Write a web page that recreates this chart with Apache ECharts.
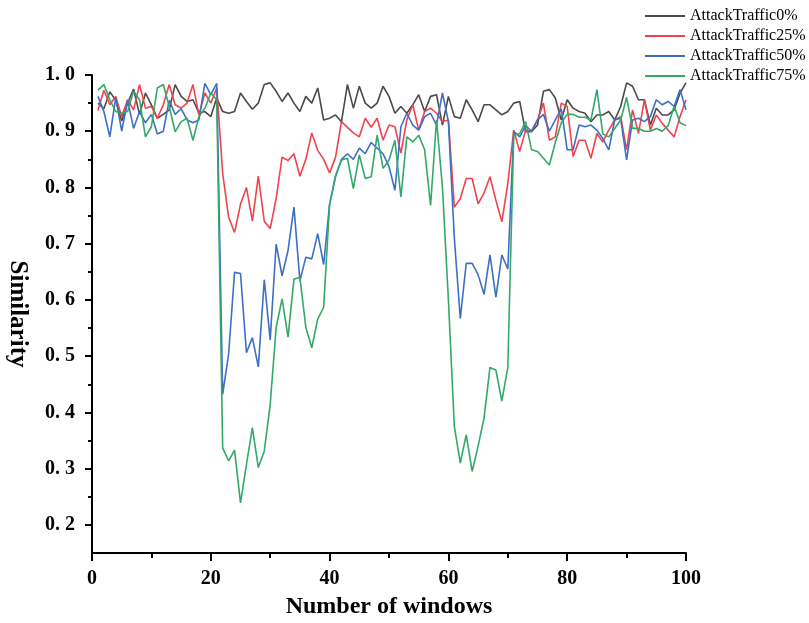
<!DOCTYPE html>
<html>
<head>
<meta charset="utf-8">
<script src="https://cdn.jsdelivr.net/npm/echarts@6/dist/echarts.min.js"></script>
<style>
  html, body { margin: 0; padding: 0; background: #fff; }
  #similarityChart { width: 809px; height: 623px; }
</style>
</head>
<body>
<div id="similarityChart"></div>
<script>
// window index 1..100
const windows = Array.from({ length: 100 }, (_, i) => i + 1)

const seriesNames = ['AttackTraffic0%', 'AttackTraffic25%', 'AttackTraffic50%', 'AttackTraffic75%']

const traffic0 = [
  0.95, 0.94, 0.97, 0.955, 0.918, 0.95, 0.975, 0.93, 0.968, 0.947,
  0.923, 0.93, 0.938, 0.983, 0.962, 0.953, 0.956, 0.932, 0.935, 0.926,
  0.959, 0.935, 0.932, 0.935, 0.968, 0.953, 0.939, 0.95, 0.983, 0.986,
  0.971, 0.953, 0.968, 0.95, 0.935, 0.962, 0.95, 0.977, 0.92, 0.923,
  0.929, 0.917, 0.983, 0.941, 0.98, 0.95, 0.941, 0.95, 0.98, 0.962,
  0.932, 0.944, 0.932, 0.947, 0.965, 0.935, 0.962, 0.965, 0.911, 0.962,
  0.926, 0.923, 0.956, 0.938, 0.917, 0.947, 0.947, 0.938, 0.929, 0.935,
  0.95, 0.953, 0.899, 0.899, 0.911, 0.971, 0.974, 0.959, 0.92, 0.956,
  0.941, 0.935, 0.932, 0.917, 0.929, 0.929, 0.935, 0.92, 0.944, 0.986,
  0.98, 0.956, 0.956, 0.911, 0.941, 0.929, 0.929, 0.938, 0.968, 0.986,
]

const traffic25 = [
  0.937, 0.973, 0.947, 0.962, 0.926, 0.956, 0.938, 0.983, 0.941, 0.944,
  0.923, 0.947, 0.983, 0.947, 0.941, 0.95, 0.983, 0.929, 0.968, 0.95,
  0.977, 0.825, 0.747, 0.72, 0.77, 0.8, 0.74, 0.82, 0.74, 0.727,
  0.78, 0.854, 0.848, 0.86, 0.82, 0.85, 0.897, 0.866, 0.85, 0.826,
  0.854, 0.917, 0.907, 0.897, 0.89, 0.923, 0.907, 0.923, 0.884, 0.911,
  0.908, 0.861, 0.92, 0.947, 0.902, 0.935, 0.941, 0.932, 0.917, 0.92,
  0.765, 0.78, 0.816, 0.816, 0.771, 0.79, 0.819, 0.777, 0.739, 0.807,
  0.902, 0.864, 0.902, 0.9, 0.92, 0.95, 0.884, 0.89, 0.95, 0.944,
  0.855, 0.884, 0.884, 0.852, 0.896, 0.881, 0.902, 0.92, 0.926, 0.867,
  0.938, 0.896, 0.956, 0.902, 0.929, 0.914, 0.902, 0.89, 0.926, 0.956,
]

const traffic50 = [
  0.962, 0.935, 0.89, 0.96, 0.9, 0.955, 0.905, 0.935, 0.915, 0.93,
  0.895, 0.9, 0.955, 0.93, 0.94, 0.92, 0.915, 0.92, 0.985, 0.965,
  0.985, 0.432, 0.504, 0.649, 0.647, 0.506, 0.533, 0.481, 0.636, 0.529,
  0.699, 0.643, 0.688, 0.765, 0.634, 0.676, 0.673, 0.718, 0.663, 0.77,
  0.82, 0.85, 0.86, 0.85, 0.87, 0.86, 0.88, 0.87, 0.86, 0.837,
  0.795, 0.908, 0.932, 0.911, 0.902, 0.926, 0.932, 0.911, 0.968, 0.917,
  0.71, 0.567, 0.665, 0.665, 0.645, 0.61, 0.68, 0.605, 0.68, 0.655,
  0.9, 0.89, 0.91, 0.9, 0.92, 0.93, 0.9, 0.92, 0.94, 0.867,
  0.867, 0.911, 0.908, 0.911, 0.902, 0.887, 0.867, 0.92, 0.923, 0.849,
  0.92, 0.923, 0.917, 0.926, 0.956, 0.947, 0.953, 0.944, 0.974, 0.938,
]

const traffic75 = [
  0.973, 0.983, 0.956, 0.935, 0.932, 0.935, 0.971, 0.956, 0.89, 0.908,
  0.977, 0.983, 0.944, 0.899, 0.917, 0.923, 0.884, 0.926, 0.941, 0.968,
  0.956, 0.337, 0.314, 0.333, 0.239, 0.307, 0.373, 0.302, 0.331, 0.414,
  0.551, 0.602, 0.534, 0.637, 0.64, 0.551, 0.515, 0.566, 0.587, 0.77,
  0.82, 0.849, 0.852, 0.798, 0.858, 0.816, 0.819, 0.893, 0.834, 0.849,
  0.884, 0.783, 0.89, 0.881, 0.893, 0.867, 0.768, 0.92, 0.8, 0.6,
  0.375, 0.31, 0.36, 0.295, 0.34, 0.39, 0.48, 0.475, 0.42, 0.48,
  0.893, 0.896, 0.917, 0.867, 0.864, 0.852, 0.84, 0.88, 0.915, 0.93,
  0.93, 0.925, 0.925, 0.92, 0.974, 0.895, 0.89, 0.905, 0.92, 0.96,
  0.905, 0.905, 0.9, 0.9, 0.905, 0.9, 0.91, 0.945, 0.915, 0.91,
]

const yTicks = [0.2, 0.3, 0.4, 0.5, 0.6, 0.7, 0.8, 0.9, 1.0]
const yMinorTicks = [0.25, 0.35, 0.45, 0.55, 0.65, 0.75, 0.85, 0.95]

const lineColors = ['#4a4a4a', '#f0434d', '#3d6fc4', '#33a86a']
const serifFont = "'Liberation Serif', 'Times New Roman', serif"

const chart = echarts.init(document.getElementById('similarityChart'))

const allValues = [traffic0, traffic25, traffic50, traffic75]

const option = {
  backgroundColor: '#fff',
  animation: false,
  grid: {
    left: 92,
    right: 123,
    top: 75,
    bottom: 70,
    containLabel: false,
    outerBoundsMode: 'none',
  },
  legend: {
    data: seriesNames,
    orient: 'vertical',
    left: 645,
    top: 8,
    padding: 0,
    icon: 'rect',
    itemWidth: 40,
    itemHeight: 2,
    itemGap: 4,
    textStyle: {
      fontFamily: serifFont,
      fontSize: 16,
      lineHeight: 16,
      color: '#000',
    },
  },
  xAxis: {
    type: 'value',
    min: 0,
    max: 100,
    interval: 20,
    name: 'Number of windows',
    nameLocation: 'middle',
    nameGap: 42,
    nameTextStyle: {
      fontFamily: serifFont,
      fontSize: 24,
      fontWeight: 'bold',
      color: '#000',
    },
    axisLine: { lineStyle: { color: '#000', width: 2 } },
    axisTick: { length: 8, lineStyle: { color: '#000', width: 2 } },
    minorTick: { show: true, splitNumber: 2, length: 5, lineStyle: { color: '#000', width: 2 } },
    axisLabel: {
      margin: 16,
      fontFamily: serifFont,
      fontSize: 20,
      fontWeight: 'bold',
      color: '#000',
    },
    splitLine: { show: false },
  },
  yAxis: [
    {
      type: 'value',
      min: 0.15,
      max: 1.0,
      name: 'Similarity',
      nameLocation: 'middle',
      nameRotate: -90,
      nameGap: 62,
      nameTextStyle: {
        fontFamily: serifFont,
        fontSize: 25,
        fontWeight: 'bold',
        color: '#000',
      },
      axisLine: { show: true, lineStyle: { color: '#000', width: 2 } },
      axisTick: {
        show: true,
        length: 7,
        customValues: yTicks,
        lineStyle: { color: '#000', width: 2 },
      },
      axisLabel: {
        margin: 17,
        customValues: yTicks,
        fontFamily: serifFont,
        fontSize: 20,
        fontWeight: 'bold',
        color: '#000',
        formatter: (v) => v.toFixed(1).replace('.', '. '),
      },
      splitLine: { show: false },
    },
    {
      // minor ticks only
      type: 'value',
      min: 0.15,
      max: 1.0,
      position: 'left',
      axisLine: { show: false },
      axisTick: {
        show: true,
        length: 4,
        customValues: yMinorTicks,
        lineStyle: { color: '#000', width: 2 },
      },
      axisLabel: { show: false },
      splitLine: { show: false },
    },
  ],
  series: seriesNames.map((name, idx) => ({
    name,
    type: 'line',
    yAxisIndex: 0,
    symbol: 'none',
    color: lineColors[idx],
    lineStyle: { width: 1.6, color: lineColors[idx] },
    data: windows.map((w, i) => [w, allValues[idx][i]]),
  })),
}

chart.setOption(option)
</script>
</body>
</html>
